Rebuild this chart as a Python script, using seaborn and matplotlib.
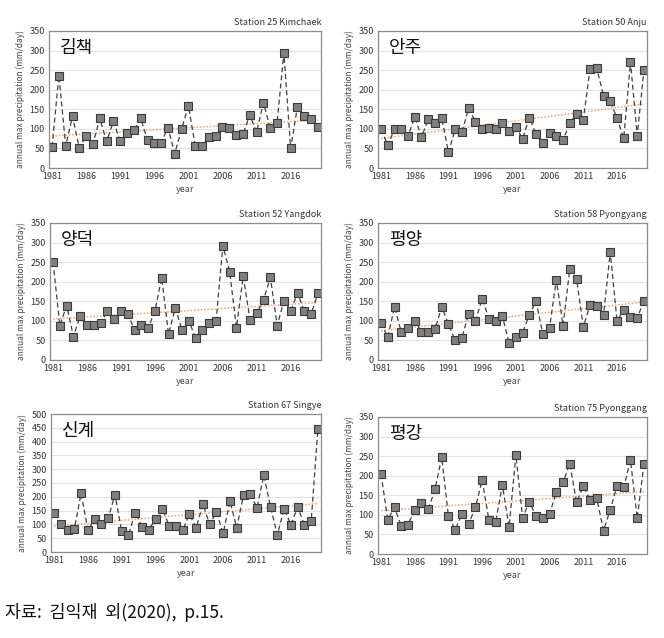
import numpy as np
import pandas as pd
import seaborn as sns
import matplotlib.pyplot as plt

years = list(range(1981, 2021))

kimchaek = [54, 236, 57, 132, 51, 82, 61, 127, 68, 119,
            68, 90, 96, 127, 71, 63, 65, 103, 37, 99,
            159, 57, 57, 78, 83, 104, 102, 85, 86, 136,
            91, 167, 102, 114, 294, 50, 157, 132, 124, 104]
anju = [99, 58, 100, 100, 81, 130, 79, 124, 116, 128,
        40, 99, 91, 153, 118, 99, 102, 99, 114, 94,
        105, 75, 129, 86, 65, 89, 82, 72, 114, 139,
        123, 253, 255, 185, 171, 127, 76, 271, 83, 251]
yangdok = [250, 88, 139, 60, 113, 89, 89, 95, 124, 106,
           124, 118, 76, 90, 81, 126, 210, 66, 133, 76,
           100, 55, 76, 95, 100, 292, 226, 83, 214, 103,
           120, 154, 211, 88, 152, 126, 171, 124, 118, 170]
pyongyang = [95, 58, 136, 71, 83, 100, 72, 72, 78, 136,
             92, 50, 57, 118, 100, 156, 106, 99, 112, 43,
             58, 70, 116, 150, 66, 83, 205, 88, 233, 207,
             85, 140, 137, 115, 276, 100, 128, 111, 108, 151]
singye = [140, 100, 79, 84, 212, 80, 119, 100, 122, 208,
          75, 62, 143, 91, 80, 120, 157, 96, 93, 79,
          136, 88, 173, 100, 144, 68, 184, 88, 206, 209,
          161, 278, 163, 62, 157, 98, 163, 98, 113, 447]
pyonggang = [204, 88, 119, 72, 75, 113, 131, 114, 165, 247,
             97, 62, 102, 77, 119, 189, 87, 82, 176, 69,
             253, 93, 133, 97, 93, 102, 158, 183, 231, 132,
             173, 139, 142, 60, 113, 174, 170, 240, 91, 230]

stations = ["Station 25 Kimchaek", "Station 50 Anju", "Station 52 Yangdok",
            "Station 58 Pyongyang", "Station 67 Singye", "Station 75 Pyonggang"]
names_kr = ["김책", "안주", "양덕", "평양", "신계", "평강"]
series = [kimchaek, anju, yangdok, pyongyang, singye, pyonggang]
ymax = [350, 350, 350, 350, 500, 350]
xticks = [1981, 1986, 1991, 1996, 2001, 2006, 2011, 2016]

sns.set_style("white")
plt.rcParams['font.family'] = ['Noto Sans CJK KR', 'DejaVu Sans']

W, H = 664, 638
fig = plt.figure(figsize=(W / 100, H / 100), dpi=100)

# axes boxes in pixels: left, top, right, bottom
boxes = [(49, 31, 321, 168), (378, 31, 647, 168),
         (50, 223, 321, 360), (378, 223, 647, 360),
         (51, 414, 321, 552), (378, 417, 647, 554)]

for i, (st, kr, vals, ym, b) in enumerate(zip(stations, names_kr, series, ymax, boxes)):
    l, t, r, btm = b
    ax = fig.add_axes([l / W, 1 - btm / H, (r - l) / W, (btm - t) / H])
    df = pd.DataFrame({"year": years, "precip": vals})

    # linear trend, dotted orange
    sns.regplot(x="year", y="precip", data=df, ax=ax, scatter=False, ci=None,
                line_kws=dict(color="#f2a46e", lw=1.1, ls=(0, (1, 1.2))))
    sns.lineplot(x="year", y="precip", data=df, ax=ax, color="#404040",
                 lw=0.9, ls=(0, (4, 2.5)), marker="s", markersize=5.5,
                 markerfacecolor="#7f7f7f", markeredgecolor="#3a3a3a",
                 markeredgewidth=0.8)

    ax.set_xlim(1980.55, 2020.45)
    ax.set_ylim(0, ym)
    ax.set_yticks(np.arange(0, ym + 1, 50))
    ax.set_xticks(xticks)
    ax.tick_params(labelsize=6.5, length=0, pad=3, colors="#333333")
    ax.yaxis.grid(True, color="#e3e3e3", lw=0.8)
    ax.set_axisbelow(True)
    for s in ax.spines.values():
        s.set_color("#8c8c8c")
        s.set_linewidth(0.9)

    ax.set_xlabel("year", fontsize=6.5, color="#444444", labelpad=3)
    ax.set_ylabel("annual max precipitation (mm/day)", fontsize=6,
                  color="#444444", labelpad=3)
    ax.text(1.0, 1.03, st, transform=ax.transAxes, ha="right", va="bottom",
            fontsize=6.5, color="#333333")
    ax.text(0.04, 0.94, kr, transform=ax.transAxes, ha="left", va="top",
            fontsize=13, color="#111111")

fig.text(5 / W, 1 - 612 / H, "자료:  김익재  외(2020),  p.15.", ha="left",
         va="center", fontsize=12.5, color="#111111")

fig.savefig("out.png", dpi=100)
